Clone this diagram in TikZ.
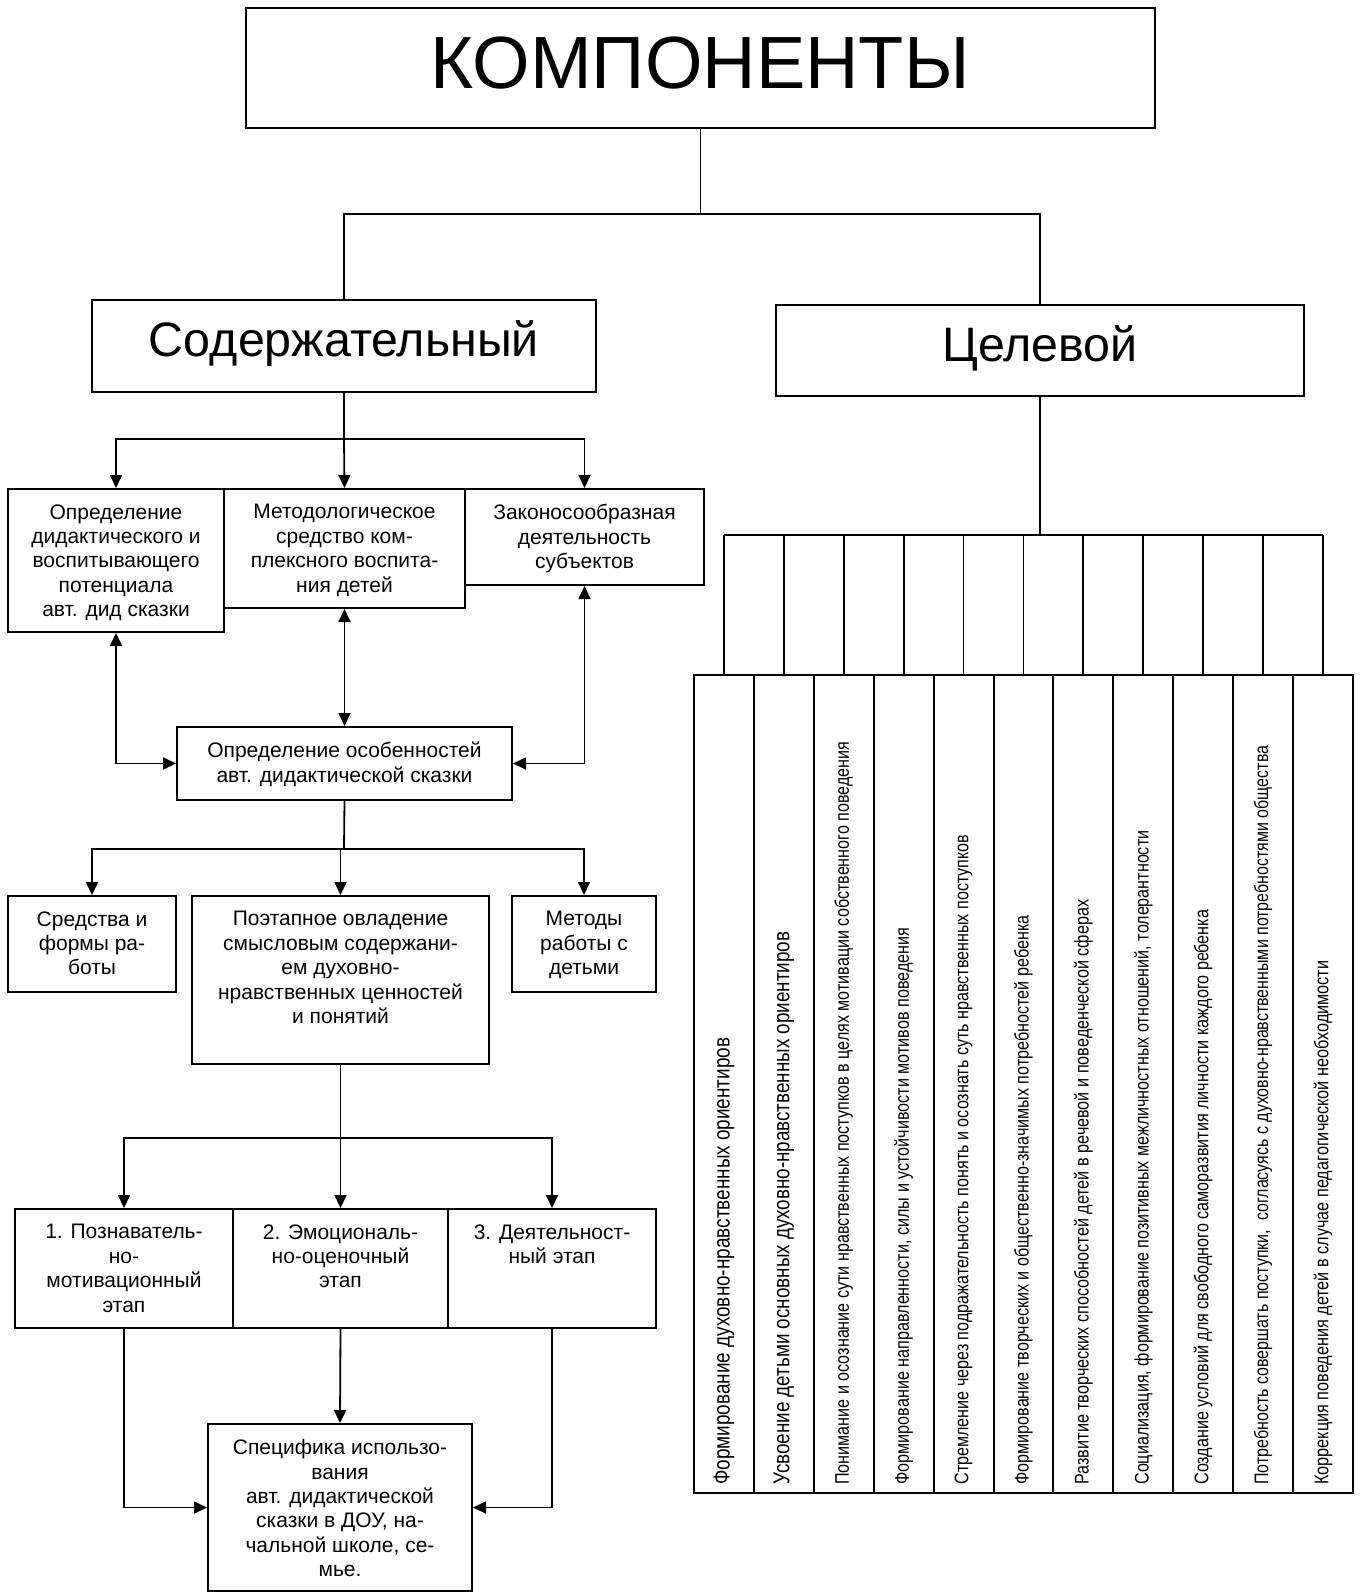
\documentclass[tikz,border=0pt]{standalone}
\usepackage{fontspec}
\setmainfont{Liberation Sans}
\usepackage{graphicx}
\usetikzlibrary{arrows.meta,fit,calc}
\tikzset{
  boxst/.style={draw, line width=1pt, inner sep=0pt},
  txt/.style={align=center, inner sep=0pt, font=\fontsize{10.5}{12.2}\selectfont},
  conn/.style={line width=0.9pt},
  arr/.style={conn, -{Triangle[length=6.5pt,width=6pt]}},
  darr/.style={conn, {Triangle[length=6.5pt,width=6pt]}-{Triangle[length=6.5pt,width=6pt]}},
  trunk/.style={line width=1.4pt},
  colst/.style={draw, line width=1pt, inner sep=0pt, minimum width=29.95pt, minimum height=409pt},
  coltxt/.style={inner sep=0pt, rotate=90, anchor=west}
}
\newcommand{\mybox}[5]{\node[boxst, fit={(#2,#3) (#4,#5)}] (#1) {};}
\newcommand{\boxtext}[2]{\node[txt, anchor=north] (#1t) at ([yshift=-8pt]#1.north) {#2};}
\newcommand{\colbox}[3]{%
  \node[colst] (c#1) at ({694+59.9*(#1-0.5)},1084) {};
  \node[coltxt] (t#1) at ({694+59.9*(#1-0.5)},1485) {\resizebox{#2pt}{!}{\scalebox{0.82}[1]{#3}}};
}
\begin{document}
\begin{tikzpicture}[x=0.5pt,y=-0.5pt]
\useasboundingbox (0,0) rectangle (1359,1593);
% top
\mybox{komp}{246}{8}{1155}{128}
\node[inner sep=0pt, anchor=base, font=\fontsize{37}{40}\selectfont] (kompt) at (700,89) {КОМПОНЕНТЫ};
\mybox{soder}{92}{300}{596}{392}
\node[inner sep=0pt, anchor=base, font=\fontsize{24.2}{30}\selectfont] (sodert) at (344,357) {Содержательный};
\mybox{celev}{776}{305}{1304}{396}
\node[inner sep=0pt, anchor=base, font=\fontsize{24.2}{30}\selectfont] (celevt) at (1040,362) {Целевой};
\coordinate (j1) at (700.5,214);
\draw[conn] (komp.south) -- (j1);
\draw[conn] (soder.north) |- (j1) -| (celev.north);
% left branch level 1
\mybox{b1}{8}{489}{224}{632}
\boxtext{b1}{Определение\\дидактического и\\воспитывающего\\потенциала\\авт. дид сказки}
\mybox{b2}{224}{489}{465}{608}
\boxtext{b2}{Методологическое\\средство ком-\\плексного воспита-\\ния детей}
\mybox{b3}{465}{489}{704}{585}
\boxtext{b3}{Законосообразная\\деятельность\\субъектов}
\coordinate (j2) at (344,439);
\draw[conn] (soder.south) -- (j2);
\draw[arr] (j2) -| (b1.north);
\draw[arr] (j2) -- (b2.north);
\draw[arr] (j2) -| (b3.north);
% osob
\mybox{osob}{177}{727}{512}{800}
\boxtext{osob}{Определение особенностей\\авт. дидактической сказки}
\draw[darr] (b1.south) |- (osob.west);
\draw[darr] (b2.south) -- (osob.north);
\draw[darr] (b3.south) |- (osob.east);
% level 3
\mybox{sred}{8}{896}{176}{992}
\boxtext{sred}{Средства и\\формы ра-\\боты}
\mybox{poet}{192}{896}{489}{1064}
\boxtext{poet}{Поэтапное овладение\\смысловым содержани-\\ем духовно-\\нравственных ценностей\\и понятий}
\mybox{meth}{512}{896}{656}{992}
\boxtext{meth}{Методы\\работы с\\детьми}
\coordinate (j3) at (344,849);
\draw[conn] (osob.south) -- (j3);
\draw[arr] (j3) -| (sred.north);
\draw[arr] (j3) -| (poet.north);
\draw[arr] (j3) -| (meth.north);
% stages
\mybox{s1}{15}{1209}{233}{1328}
\boxtext{s1}{1. Познаватель-\\но-\\мотивационный\\этап}
\mybox{s2}{233}{1209}{448}{1328}
\boxtext{s2}{2. Эмоциональ-\\но-оценочный\\этап}
\mybox{s3}{448}{1209}{656}{1328}
\boxtext{s3}{3. Деятельност-\\ный этап}
\coordinate (j4) at (340.5,1138);
\draw[conn] (poet.south) -- (j4);
\draw[arr] (j4) -| (s1.north);
\draw[arr] (j4) -- (s2.north);
\draw[arr] (j4) -| (s3.north);
% spec
\mybox{spec}{208}{1424}{472}{1591}
\boxtext{spec}{Специфика использо-\\вания\\авт. дидактической\\сказки в ДОУ, на-\\чальной школе, се-\\мье.}
\draw[arr] (s1.south) |- (spec.west);
\draw[arr] (s2.south) -- (spec.north);
\draw[arr] (s3.south) |- (spec.east);
% right table
\colbox{1}{223.5}{Формирование духовно-нравственных ориентиров}
\colbox{2}{276.5}{Усвоение детьми основных духовно-нравственных ориентиров}
\colbox{3}{371.5}{Понимание и осознание сути нравственных поступков в целях мотивации собственного поведения}
\colbox{4}{278.5}{Формирование направленности, силы и устойчивости мотивов поведения}
\colbox{5}{325}{Стремление через подражательность понять и осознать суть нравственных поступков}
\colbox{6}{284.5}{Формирование творческих и общественно-значимых потребностей ребенка}
\colbox{7}{292.5}{Развитие творческих способностей детей в речевой и поведенческой сферах}
\colbox{8}{327}{Социализация, формирование позитивных межличностных отношений, толерантности}
\colbox{9}{287.5}{Создание условий для свободного саморазвития личности каждого ребенка}
\colbox{10}{369.5}{Потребность совершать поступки,\ \ согласуясь с духовно-нравственными потребностями общества}
\colbox{11}{262}{Коррекция поведения детей в случае педагогической необходимости}
\coordinate (bar) at (1040,535);
\draw[trunk] (celev.south) -- (bar);
\draw[trunk] (c1.north |- bar) -- (c11.north |- bar);
\foreach \i in {1,...,11} {\draw[conn] (c\i.north) -- (c\i.north |- bar);}
\end{tikzpicture}
\end{document}
